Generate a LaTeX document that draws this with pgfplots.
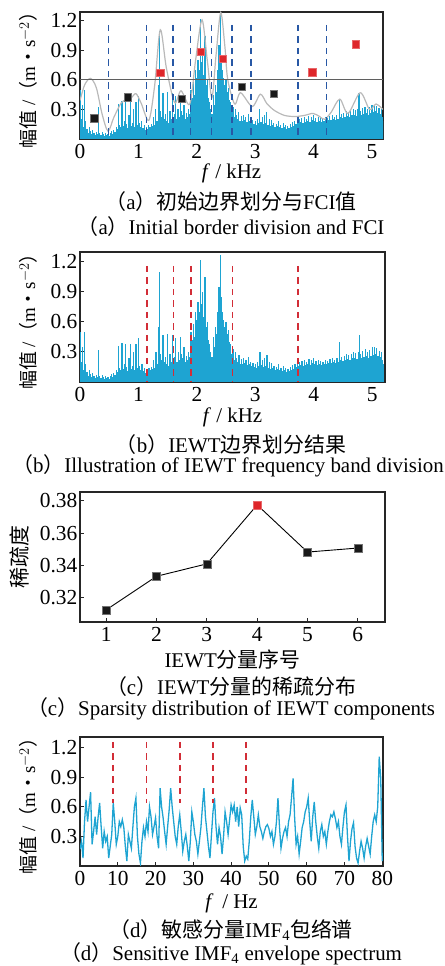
\documentclass[border=0pt]{standalone}
\usepackage{pgfplots}
\pgfplotsset{compat=1.18}
\usepackage{pgfplotstable}
\usepackage{fontspec}
\setmainfont{Liberation Serif}
\newfontfamily\cjk{Noto Sans CJK SC}

\definecolor{specblue}{RGB}{30,164,210}
\definecolor{divblue}{RGB}{40,88,165}
\definecolor{divred}{RGB}{210,45,55}
\definecolor{sqred}{RGB}{222,38,42}
\definecolor{envgray}{RGB}{185,185,185}
\definecolor{thrgray}{RGB}{95,95,95}

% spectrum amplitude, 0.02 kHz step from 0 to 5.2 kHz
\pgfplotstableread[row sep=\\]{
y\\
0.50\\0.20\\0.35\\0.12\\0.50\\0.18\\0.10\\0.06\\0.12\\0.08\\
0.05\\0.09\\0.06\\0.04\\0.07\\0.05\\0.32\\0.06\\0.04\\0.07\\
0.05\\0.03\\0.06\\0.04\\0.05\\0.03\\0.06\\0.08\\0.05\\0.09\\
0.07\\0.12\\0.10\\0.36\\0.14\\0.12\\0.39\\0.13\\0.18\\0.38\\
0.15\\0.11\\0.24\\0.38\\0.13\\0.16\\0.30\\0.12\\0.38\\0.14\\
0.44\\0.16\\0.12\\0.18\\0.11\\0.14\\0.09\\0.12\\0.10\\0.14\\
0.12\\0.15\\0.13\\0.22\\0.14\\0.30\\0.18\\0.55\\1.10\\0.28\\
0.22\\0.47\\0.20\\0.25\\0.18\\0.48\\0.16\\0.28\\0.20\\0.47\\
0.18\\0.25\\0.44\\0.20\\0.30\\0.22\\0.45\\0.28\\0.24\\0.35\\
0.20\\0.26\\0.22\\0.30\\0.25\\0.50\\0.42\\0.58\\0.45\\0.70\\
0.62\\0.80\\0.70\\1.22\\0.78\\0.90\\0.65\\1.05\\0.55\\0.60\\
0.42\\0.38\\0.30\\0.25\\0.45\\0.35\\0.55\\0.48\\0.70\\0.95\\
1.27\\0.85\\0.70\\0.62\\0.55\\0.60\\0.48\\0.52\\0.40\\0.38\\
0.28\\0.33\\0.22\\0.30\\0.24\\0.20\\0.27\\0.18\\0.23\\0.18\\
0.24\\0.19\\0.22\\0.17\\0.25\\0.18\\0.20\\0.16\\0.19\\0.15\\
0.18\\0.14\\0.20\\0.16\\0.30\\0.17\\0.22\\0.15\\0.24\\0.16\\
0.27\\0.14\\0.20\\0.13\\0.19\\0.14\\0.16\\0.12\\0.15\\0.13\\
0.18\\0.12\\0.14\\0.11\\0.16\\0.12\\0.14\\0.10\\0.13\\0.11\\
0.15\\0.12\\0.17\\0.13\\0.18\\0.15\\0.19\\0.16\\0.20\\0.17\\
0.21\\0.16\\0.22\\0.17\\0.20\\0.18\\0.23\\0.17\\0.22\\0.19\\
0.24\\0.18\\0.21\\0.17\\0.22\\0.18\\0.21\\0.17\\0.20\\0.18\\
0.22\\0.18\\0.21\\0.19\\0.23\\0.19\\0.24\\0.20\\0.22\\0.19\\
0.24\\0.20\\0.40\\0.22\\0.25\\0.21\\0.26\\0.22\\0.28\\0.23\\
0.27\\0.22\\0.28\\0.24\\0.30\\0.24\\0.29\\0.23\\0.30\\0.47\\
0.28\\0.24\\0.31\\0.25\\0.33\\0.26\\0.30\\0.24\\0.32\\0.26\\
0.35\\0.27\\0.35\\0.28\\0.34\\0.26\\0.31\\0.25\\0.30\\0.22\\
0.18\\
}\spectab

% envelope spectrum of IMF4, 0.4 Hz step from 0 to 80 Hz
\pgfplotstableread[row sep=\\]{
y\\
0.17\\0.25\\0.08\\0.45\\0.67\\0.45\\0.60\\0.75\\0.22\\0.35\\
0.50\\0.32\\0.50\\0.64\\0.40\\0.18\\0.35\\0.25\\0.30\\0.08\\
0.20\\0.32\\0.64\\0.45\\0.22\\0.30\\0.45\\0.40\\0.47\\0.39\\
0.20\\0.05\\0.32\\0.25\\0.18\\0.40\\0.60\\0.69\\0.30\\0.12\\
0.03\\0.25\\0.39\\0.30\\0.45\\0.35\\0.60\\0.50\\0.32\\0.40\\
0.49\\0.30\\0.18\\0.79\\0.60\\0.49\\0.35\\0.22\\0.40\\0.57\\
0.79\\0.60\\0.45\\0.30\\0.22\\0.40\\0.52\\0.35\\0.15\\0.25\\
0.32\\0.20\\0.05\\0.25\\0.55\\0.45\\0.32\\0.25\\0.12\\0.25\\
0.39\\0.60\\0.79\\0.50\\0.35\\0.20\\0.08\\0.32\\0.55\\0.69\\
0.40\\0.22\\0.39\\0.30\\0.12\\0.30\\0.55\\0.45\\0.32\\0.47\\
0.62\\0.55\\0.62\\0.45\\0.60\\0.40\\0.59\\0.52\\0.20\\0.05\\
0.10\\0.07\\0.25\\0.50\\0.67\\0.50\\0.32\\0.40\\0.52\\0.40\\
0.35\\0.28\\0.35\\0.40\\0.42\\0.38\\0.30\\0.35\\0.22\\0.30\\
0.45\\0.69\\0.40\\0.18\\0.28\\0.35\\0.39\\0.30\\0.45\\0.52\\
0.70\\0.89\\0.50\\0.22\\0.30\\0.12\\0.25\\0.39\\0.45\\0.55\\
0.60\\0.69\\0.45\\0.25\\0.50\\0.65\\0.45\\0.30\\0.18\\0.35\\
0.42\\0.30\\0.35\\0.22\\0.35\\0.45\\0.52\\0.50\\0.55\\0.48\\
0.39\\0.45\\0.30\\0.22\\0.40\\0.55\\0.62\\0.30\\0.05\\0.25\\
0.38\\0.44\\0.20\\0.08\\0.03\\0.15\\0.25\\0.18\\0.08\\0.20\\
0.28\\0.20\\0.12\\0.30\\0.45\\0.52\\0.45\\0.60\\1.11\\0.89\\
0.05\\
}\imftab

\pgfplotsset{
  myaxis/.style={
    scale only axis,
    axis line style={line width=1.1bp, black!85},
    every tick/.style={line width=1bp, black!85},
    tick align=inside,
    major tick length=4bp,
    xtick pos=bottom, ytick pos=left,
    ticklabel style={font=\fontsize{21.5}{21.5}\selectfont},
    xticklabel style={inner sep=0bp, yshift=-5bp},
    yticklabel style={inner sep=2.5bp},
    /pgf/number format/assume math mode=true,
    label style={font=\fontsize{21}{23}\selectfont, inner sep=0bp},
    xlabel style={at={(axis description cs:0.5,0)}, anchor=center},
    ylabel style={anchor=center},
  },
  amplabel/.style={ylabel style={font=\fontsize{19}{21}\selectfont}},
  divline/.style={line width=1.6bp, dash pattern=on 6.5bp off 5bp},
}

\newcommand{\amp}{{\cjk 幅值} /{\cjk （}m{\cjk ・}s$^{-2}${\cjk ）}}
\newcommand{\capfont}{\fontsize{21}{23}\selectfont}

\begin{document}
\begin{tikzpicture}
\path[use as bounding box] (0,0) rectangle (445bp,966bp);

% ---------------- (a) ----------------
\begin{axis}[myaxis, amplabel,
  at={(80bp,827bp)}, anchor=south west,
  width=303bp, height=127bp,
  xmin=0, xmax=5.19, ymin=0, ymax=1.29,
  xtick={0,1,2,3,4,5}, xticklabels={0,1,2,3,4,5},
  ytick={0.3,0.6,0.9,1.2}, yticklabels={0.3,0.6,0.9,1.2},
  xlabel={\textit{f} / kHz}, xlabel style={yshift=-34bp},
  ylabel={\amp}, ylabel style={at={(axis description cs:-0.172,0.5)}},
]
\addplot[ycomb, specblue, line width=1.2bp] table[x expr=\coordindex*0.02, y=y]{\spectab};
\addplot[envgray, line width=1.2bp, smooth] coordinates {
 (0,0.39) (0.08,0.55) (0.18,0.616) (0.28,0.52) (0.38,0.25) (0.48,0.08)
 (0.58,0.22) (0.71,0.37) (0.8,0.40) (0.88,0.42) (0.96,0.46) (1.05,0.36)
 (1.18,0.19) (1.28,0.55) (1.375,1.11) (1.48,0.72) (1.62,0.37) (1.73,0.49)
 (1.88,0.355) (1.98,0.8) (2.09,1.21) (2.18,0.8) (2.26,0.42) (2.33,0.85)
 (2.41,1.285) (2.48,0.95) (2.53,0.606) (2.65,0.355) (2.75,0.47) (2.95,0.33)
 (3.09,0.455) (3.2,0.36) (3.33,0.29) (3.5,0.24) (3.68,0.228) (3.85,0.24)
 (3.99,0.26) (4.1,0.23) (4.19,0.20) (4.3,0.27) (4.45,0.405) (4.59,0.26)
 (4.80,0.47) (4.96,0.30) (5.07,0.355) (5.19,0.30)};
\addplot[thrgray, line width=1.2bp] coordinates {(0,0.602) (5.19,0.602)};
\foreach \b in {0.485,1.14,1.597,1.895,2.254,2.608,2.928,3.73,4.22}{
  \edef\tmp{\noexpand\addplot[divblue, divline] coordinates {(\b,1.16) (\b,0)};}
  \tmp
}
\addplot[only marks, mark=square*, mark size=3.7bp, mark options={fill=black!90, draw=black!55, line width=0.5bp}]
  coordinates {(0.245,0.209) (0.816,0.424) (1.74,0.411) (2.77,0.528) (3.32,0.458)};
\addplot[only marks, mark=square*, mark size=3.7bp, mark options={fill=sqred, draw=sqred!70, line width=0.5bp}]
  coordinates {(1.375,0.670) (2.07,0.885) (2.44,0.814) (3.98,0.676) (4.72,0.961)};
\end{axis}
\node[font=\capfont] at (231bp,764bp) {{\cjk （}a{\cjk ）初始边界划分与}FCI{\cjk 值}};
\node[font=\capfont] at (231bp,739bp) {{\cjk （}a{\cjk ）}Initial border division and FCI};

% ---------------- (b) ----------------
\begin{axis}[myaxis, amplabel,
  at={(80bp,584bp)}, anchor=south west,
  width=305bp, height=130bp,
  xmin=0, xmax=5.22, ymin=0, ymax=1.30,
  xtick={0,1,2,3,4,5}, xticklabels={0,1,2,3,4,5},
  ytick={0.3,0.6,0.9,1.2}, yticklabels={0.3,0.6,0.9,1.2},
  xlabel={\textit{f} / kHz}, xlabel style={yshift=-35bp},
  ylabel={\amp}, ylabel style={at={(axis description cs:-0.171,0.5)}},
]
\addplot[ycomb, specblue, line width=1.2bp] table[x expr=\coordindex*0.02, y=y]{\spectab};
\foreach \b in {1.15,1.60,1.895,2.61,3.73}{
  \edef\tmp{\noexpand\addplot[divred, divline] coordinates {(\b,1.16) (\b,0)};}
  \tmp
}
\end{axis}
\node[font=\capfont] at (231bp,521bp) {{\cjk （}b{\cjk ）}IEWT{\cjk 边界划分结果}};
\node[font=\capfont] at (228bp,500bp) {{\cjk （}b{\cjk ）}Illustration of IEWT frequency band division};

% ---------------- (c) ----------------
\begin{axis}[myaxis,
  at={(80bp,344bp)}, anchor=south west,
  width=305bp, height=130bp,
  xmin=0.48, xmax=6.54, ymin=0.305, ymax=0.3855,
  xtick={1,2,3,4,5,6}, xticklabels={1,2,3,4,5,6},
  ytick={0.32,0.34,0.36,0.38}, yticklabels={0.32,0.34,0.36,0.38},
  xlabel={IEWT{\cjk 分量序号}}, xlabel style={yshift=-38bp},
  ylabel={\cjk 稀疏度}, ylabel style={at={(axis description cs:-0.197,0.5)}},
]
\addplot[black, line width=0.9bp, mark=square*, mark size=4bp, mark options={fill=black!90, draw=black!55, line width=0.5bp}]
  coordinates {(1,0.3125) (2,0.3333) (3,0.3410) (4,0.3775) (5,0.3483) (6,0.3508)};
\addplot[only marks, mark=square*, mark size=4bp, mark options={fill=sqred, draw=sqred!70, line width=0.5bp}]
  coordinates {(4,0.3775)};
\end{axis}
\node[font=\capfont] at (231bp,279bp) {{\cjk （}c{\cjk ）}IEWT{\cjk 分量的稀疏分布}};
\node[font=\capfont] at (231bp,257bp) {{\cjk （}c{\cjk ）}Sparsity distribution of IEWT components};

% ---------------- (d) ----------------
\begin{axis}[myaxis, amplabel,
  at={(80bp,100bp)}, anchor=south west,
  width=303bp, height=129bp,
  xmin=0, xmax=80.2, ymin=0, ymax=1.31,
  xtick={0,10,20,30,40,50,60,70,80}, xticklabels={0,10,20,30,40,50,60,70,80},
  ytick={0.3,0.6,0.9,1.2}, yticklabels={0.3,0.6,0.9,1.2},
  xlabel={\textit{f}\, / Hz}, xlabel style={yshift=-37bp},
  ylabel={\amp}, ylabel style={at={(axis description cs:-0.172,0.5)}},
]
\addplot[specblue, line width=1.3bp] table[x expr=\coordindex*0.4, y=y]{\imftab};
\foreach \b in {8.8,17.6,26.4,35.2,44.0}{
  \edef\tmp{\noexpand\addplot[divred, divline] coordinates {(\b,1.26) (\b,0.64)};}
  \tmp
}
\end{axis}
\node[font=\capfont] at (231bp,36bp) {{\cjk （}d{\cjk ）敏感分量}IMF\textsubscript{4}{\cjk 包络谱}};
\node[font=\capfont] at (231bp,12bp) {{\cjk （}d{\cjk ）}Sensitive IMF\textsubscript{4} envelope spectrum};
\end{tikzpicture}
\end{document}
